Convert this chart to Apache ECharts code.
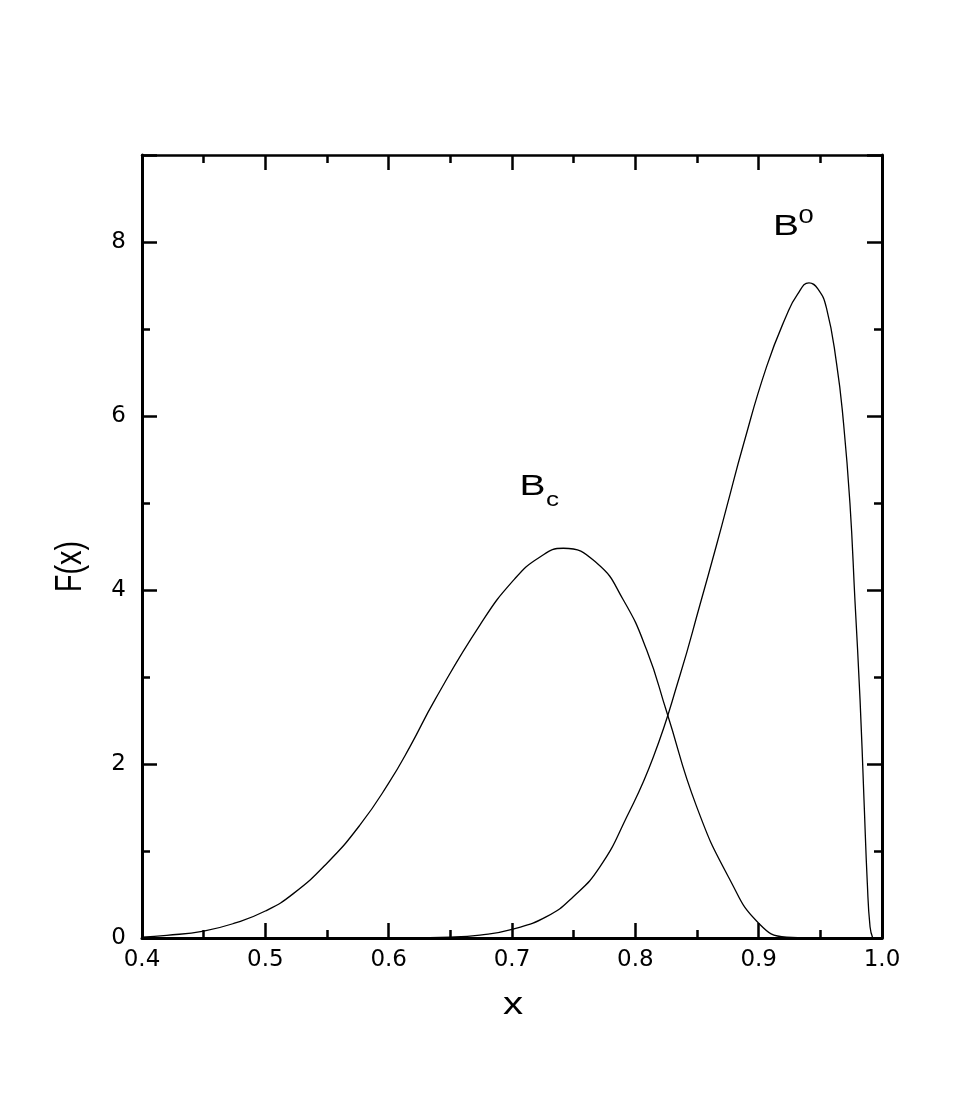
<!DOCTYPE html>
<html>
<head>
<meta charset="utf-8">
<script src="https://cdn.jsdelivr.net/npm/echarts@6/dist/echarts.min.js"></script>
<style>
html,body{margin:0;padding:0;background:#fff;}
#c{width:969px;height:1107px;}
</style>
</head>
<body>
<div id="c"></div>
<script>
// ---- data ----
const bcX = [0.40, 0.42, 0.45, 0.475, 0.50, 0.5227, 0.55, 0.5768, 0.60, 0.6173, 0.6376, 0.6741, 0.7011, 0.7227, 0.7416, 0.7687, 0.7903, 0.8092, 0.8254, 0.8497, 0.8768, 0.90, 0.9227, 0.95];
const bcY = [0.01, 0.03, 0.08, 0.17, 0.31, 0.51, 0.86, 1.30, 1.78, 2.20, 2.74, 3.60, 4.11, 4.38, 4.48, 4.31, 3.885, 3.31, 2.60, 1.51, 0.667, 0.17, 0.01, 0.0];
const b0X = [0.60, 0.65, 0.674, 0.70, 0.728, 0.7497, 0.7714, 0.793, 0.8146, 0.8362, 0.8524, 0.8659, 0.874, 0.8876, 0.9065, 0.9227, 0.9316, 0.9408, 0.948, 0.955, 0.9632, 0.9686, 0.974, 0.9781, 0.9822, 0.9854, 0.9881, 0.9903, 0.9925];
const b0Y = [0.0, 0.01, 0.034, 0.10, 0.245, 0.475, 0.82, 1.39, 2.08, 3.02, 3.83, 4.52, 4.95, 5.67, 6.57, 7.16, 7.40, 7.53, 7.46, 7.24, 6.60, 5.95, 5.0, 3.87, 2.74, 1.59, 0.63, 0.13, 0.0];
const xTickLabels = ['0.4', '0.5', '0.6', '0.7', '0.8', '0.9', '1.0'];
const yTickLabels = ['0', '2', '4', '6', '8'];
const xName = 'x';
const yName = 'F(x)';
const curveLabels = [
  { text: 'B', x: 0.9222, y: 8.18, size: 30 },
  { text: '0', x: 0.9384, y: 8.28, size: 21 },
  { text: 'B', x: 0.7166, y: 5.187, size: 30 },
  { text: 'c', x: 0.7328, y: 5.034, size: 20 }
];

const zip = (xs, ys) => xs.map((v, i) => [v, ys[i]]);
const chart = echarts.init(document.getElementById('c'), null, { renderer: 'canvas' });

const tickFont = { fontFamily: 'DejaVu Sans', fontSize: 23, color: '#000' };
const xBase = {
  type: 'value', min: 0.4, max: 1.0, interval: 0.1,
  axisLine: { show: true, onZero: false, lineStyle: { color: '#000', width: 3 } },
  axisTick: { show: true, inside: true, length: 15, lineStyle: { color: '#000', width: 2.5 } },
  minorTick: { show: true, splitNumber: 2, length: 8, lineStyle: { color: '#000', width: 2.5 } },
  splitLine: { show: false }, minorSplitLine: { show: false }
};
const yMajor = {
  type: 'value', min: 0, max: 9, interval: 2,
  axisLine: { show: true, onZero: false, lineStyle: { color: '#000', width: 3 } },
  axisTick: { show: true, inside: true, length: 15, lineStyle: { color: '#000', width: 2.5 } },
  splitLine: { show: false }
};
const yMinor = {
  type: 'value', min: 0, max: 9, interval: 1,
  axisLine: { show: false },
  axisTick: { show: true, inside: true, length: 8, lineStyle: { color: '#000', width: 2.5 } },
  axisLabel: { show: false },
  splitLine: { show: false }
};

chart.setOption({
  animation: false,
  backgroundColor: '#fff',
  grid: { left: 142, right: 87, top: 155, bottom: 169, containLabel: false },
  xAxis: [
    Object.assign({}, xBase, {
      position: 'bottom',
      axisLabel: Object.assign({ show: true, margin: 11,
        formatter: v => { const s = v.toFixed(1); return xTickLabels.indexOf(s) >= 0 ? s : ''; } }, tickFont)
    }),
    Object.assign({}, xBase, { position: 'top', axisLine: { show: true, onZero: false, lineStyle: { color: '#000', width: 2.5 } }, axisLabel: { show: false } })
  ],
  yAxis: [
    Object.assign({}, yMajor, {
      position: 'left',
      axisLabel: Object.assign({ show: true, margin: 16,
        formatter: v => { const s = String(Math.round(v)); return (Math.abs(v - Math.round(v)) < 1e-9 && yTickLabels.indexOf(s) >= 0) ? s : ''; } }, tickFont)
    }),
    Object.assign({}, yMajor, { position: 'right', axisLabel: { show: false } }),
    Object.assign({}, yMinor, { position: 'left' }),
    Object.assign({}, yMinor, { position: 'right' })
  ],
  series: [
    { name: 'Bc', type: 'line', xAxisIndex: 0, yAxisIndex: 0, data: zip(bcX, bcY),
      smooth: 0.5, showSymbol: false, symbol: 'none',
      lineStyle: { color: '#000', width: 1.3 }, z: 1 },
    { name: 'B0', type: 'line', xAxisIndex: 0, yAxisIndex: 0, data: zip(b0X, b0Y),
      smooth: 0.5, showSymbol: false, symbol: 'none',
      lineStyle: { color: '#000', width: 1.3 }, z: 1 }
  ]
});

function placeText() {
  const g = [];
  curveLabels.forEach(l => {
    const p = chart.convertToPixel({ xAxisIndex: 0, yAxisIndex: 0 }, [l.x, l.y]);
    g.push({ type: 'text', x: p[0], y: p[1], scaleX: 1.3, scaleY: 1,
      style: { text: l.text, x: 0, y: 0, align: 'center', verticalAlign: 'middle',
        fontFamily: 'Liberation Sans', fontSize: l.size, fill: '#000' } });
  });
  const rect = chart.getModel().getComponent('grid', 0).coordinateSystem.getRect();
  g.push({ type: 'text', x: rect.x + rect.width / 2 + 1, y: rect.y + rect.height + 67, scaleX: 1.3,
    style: { text: xName, x: 0, y: 0, align: 'center', verticalAlign: 'middle',
      fontFamily: 'Liberation Sans', fontSize: 31, fill: '#000' } });
  g.push({ type: 'text', x: rect.x - 71, y: rect.y + rect.height / 2 + 20, rotation: Math.PI / 2, scaleX: 1, scaleY: 1.3,
    style: { text: yName, x: 0, y: 0, align: 'center', verticalAlign: 'middle',
      fontFamily: 'Liberation Sans', fontSize: 29, fill: '#000' } });
  chart.setOption({ graphic: g });
}
placeText();
</script>
</body>
</html>
